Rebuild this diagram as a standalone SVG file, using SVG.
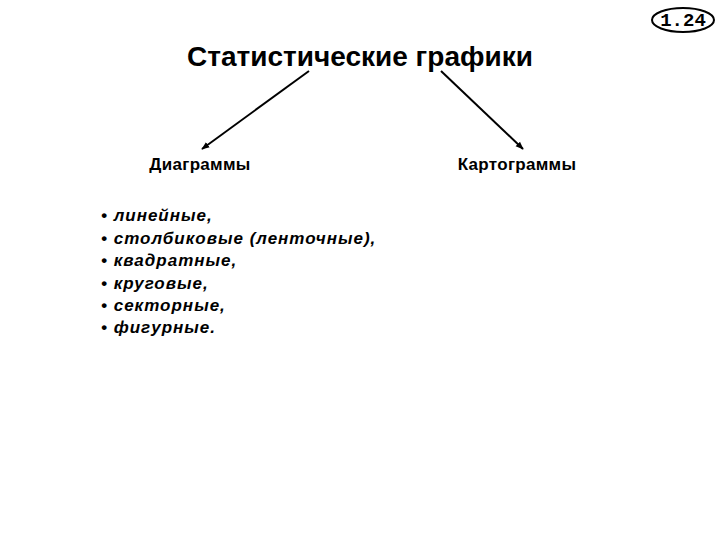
<svg xmlns="http://www.w3.org/2000/svg" width="720" height="540" viewBox="0 0 720 540">
<defs>
<marker id="ah" viewBox="0 0 10 10" refX="9" refY="5" markerWidth="8" markerHeight="8" orient="auto" markerUnits="userSpaceOnUse">
<path d="M0,1 L10,5 L0,9 z" fill="#000"/>
</marker>
<style>
.t{font-family:"Liberation Sans",Arial,sans-serif;fill:#000}
.title{font-size:28px;font-weight:bold}
.node{font-size:17px;font-weight:bold;letter-spacing:0.3px}
.item{font-size:17px;font-style:italic;font-weight:bold;letter-spacing:1px}
.badge{font-family:"Liberation Mono","DejaVu Sans Mono",monospace;font-size:19px;font-weight:bold}
.conn{stroke:#000;stroke-width:2;fill:none;marker-end:url(#ah)}
</style>
</defs>
<rect width="720" height="540" fill="#fff"/>
<g id="badge">
<ellipse cx="683" cy="20" rx="31" ry="12" fill="#fff" stroke="#000" stroke-width="2"/>
<text class="badge" x="683" y="26" text-anchor="middle">1.24</text>
</g>
<g id="root">
<text class="t title" x="360" y="66" text-anchor="middle">Статистические графики</text>
</g>
<g id="connectors">
<line class="conn" x1="309" y1="71" x2="202" y2="149"/>
<line class="conn" x1="441" y1="71" x2="523" y2="149"/>
</g>
<g id="diagrams">
<text class="t node" x="200" y="170" text-anchor="middle">Диаграммы</text>
</g>
<g id="cartograms">
<text class="t node" x="517" y="170" text-anchor="middle">Картограммы</text>
</g>
<g id="list">
<text class="t item" x="101" y="221">• линейные,</text>
<text class="t item" x="101" y="244">• столбиковые (ленточные),</text>
<text class="t item" x="101" y="266">• квадратные,</text>
<text class="t item" x="101" y="289">• круговые,</text>
<text class="t item" x="101" y="311">• секторные,</text>
<text class="t item" x="101" y="333">• фигурные.</text>
</g>
</svg>
